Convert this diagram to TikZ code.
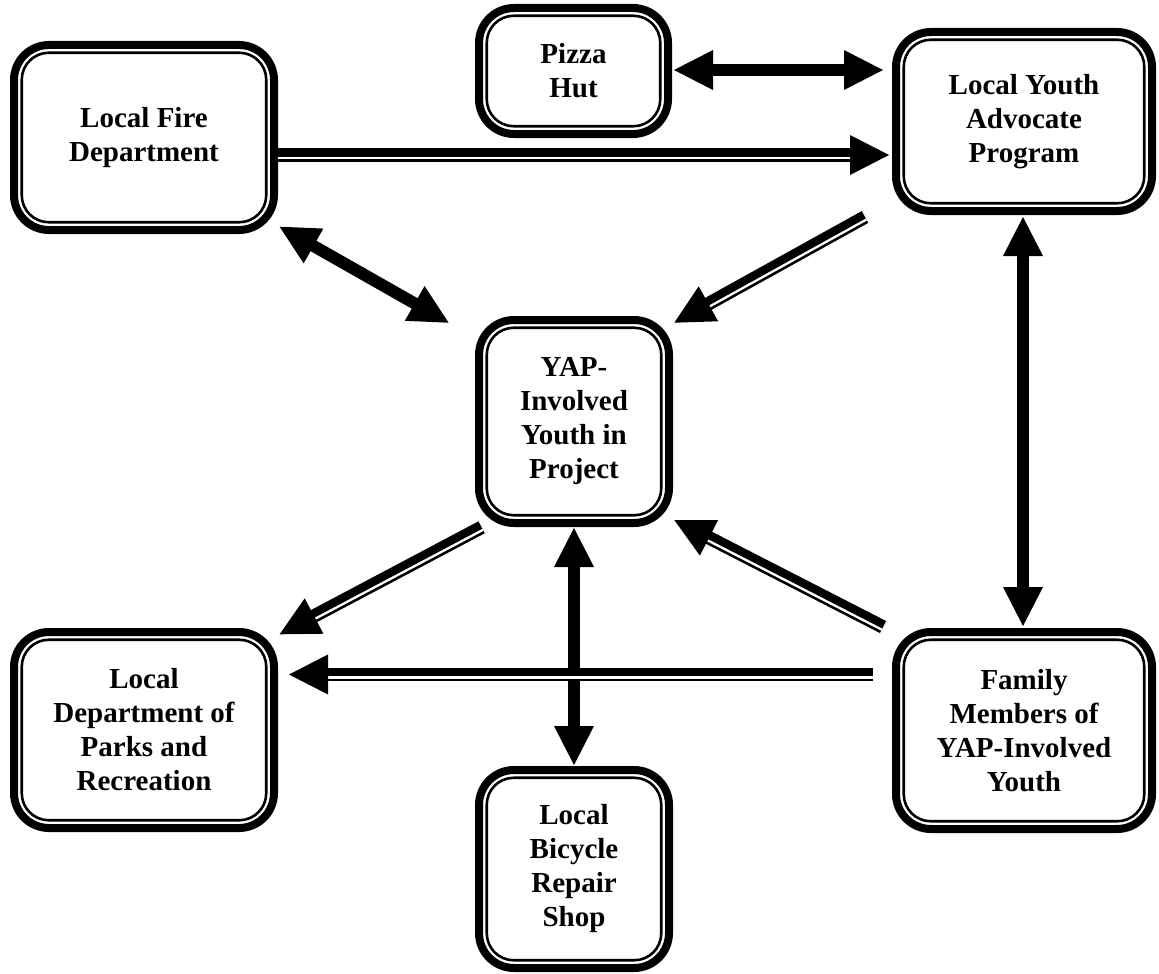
\documentclass[tikz,border=0pt]{standalone}
\usepackage{fontspec}
\setmainfont{Liberation Serif}
\usetikzlibrary{calc}

\tikzset{
  orgbox/.style={draw, line width=8pt, rounded corners=35pt, inner sep=0pt,
    outer sep=4pt, align=center, fill=white,
    font=\fontsize{29}{34}\selectfont\bfseries},
  innerline/.style={draw, line width=2.6pt, rounded corners=27pt},
  bothshaft/.style={line width=12pt},
  dblshaft/.style={line width=13.5pt},
  dblgap/.style={white, line width=2.3pt},
}

% box with a heavy outer border and a thin inner border
\newcommand\orgnode[6]{%
  \node[orgbox, minimum width=#4pt, minimum height=#5pt] (#1) at (#2,#3) {#6};
  \draw[innerline] ($(#1.north west)+(11.75,11.75)$) rectangle ($(#1.south east)+(-11.75,-11.75)$);
}

% heavy single line with a triangular head at both ends
\newcommand\linkboth[2]{%
  \path ($(#1)!39pt!(#2)$) coordinate (hA) ($(#2)!39pt!(#1)$) coordinate (hB);
  \draw[bothshaft] ($(#1)!38pt!(#2)$) -- ($(#2)!38pt!(#1)$);
  \fill (#1) -- ($(hA)!20pt!90:(#1)$) -- ($(hA)!20pt!-90:(#1)$) -- cycle;
  \fill (#2) -- ($(hB)!20pt!90:(#2)$) -- ($(hB)!20pt!-90:(#2)$) -- cycle;
}

% thick-thin double line with one head; #3 puts the thin line on one side
\newcommand\linkdouble[3]{%
  \path ($(#2)!39pt!(#1)$) coordinate (hB) ($(#2)!38pt!(#1)$) coordinate (hS);
  \draw[dblshaft] (#1) -- (hS);
  \draw[dblgap] ($(#1)!#3!90:(#2)$) -- ($(hB)!#3!-90:(#1)$);
  \fill (#2) -- ($(hB)!20pt!90:(#2)$) -- ($(hB)!20pt!-90:(#2)$) -- cycle;
}

\begin{document}
\begin{tikzpicture}[x=1pt, y=-1pt]
\useasboundingbox (0,0) rectangle (1159,974);

\orgnode{fire}{144}{137.5}{260}{185}{Local Fire\\Department}
\orgnode{pizza}{573.5}{71}{189}{126}{Pizza\\Hut}
\orgnode{lyap}{1024}{121.5}{256}{179}{Local Youth\\Advocate\\Program}
\orgnode{yap}{574}{421.5}{190}{203}{YAP-\\Involved\\Youth in\\Project}
\orgnode{parks}{144}{730}{260}{196}{Local\\Department of\\Parks and\\Recreation}
\orgnode{bike}{574}{869}{190}{198}{Local\\Bicycle\\Repair\\Shop}
\orgnode{family}{1024}{730.5}{256}{197}{Family\\Members of\\YAP-Involved\\Youth}

% connector end points
\coordinate (a1) at ($(pizza.east)+(2,-1)$);
\coordinate (a2) at ($(lyap.west |- a1)+(-9,0)$);
\coordinate (b1) at ($(fire.east)+(0,17.5)$);
\coordinate (b2) at ($(lyap.west |- b1)+(-3,0)$);
\coordinate (c1) at ($(fire.south east)+(1.6,-7.3)$);
\coordinate (c2) at ($(yap.north west)+(-26.4,6.7)$);
\coordinate (d1) at ($(lyap.south west)+(-27,2)$);
\coordinate (d2) at ($(yap.north east)+(1.3,6.7)$);
\coordinate (e1) at ($(lyap.south)+(-1,2)$);
\coordinate (e2) at ($(e1 |- family.north)+(0,-2)$);
\coordinate (f1) at ($(yap.south west)+(6.6,0.3)$);
\coordinate (f2) at ($(parks.north east)+(1.6,6.3)$);
\coordinate (g1) at ($(family.north west)+(-9,-1)$);
\coordinate (g2) at ($(yap.south east)+(1.3,-7)$);
\coordinate (h1) at ($(family.west)+(-19,-56)$);
\coordinate (h2) at ($(parks.east |- h1)+(11,0)$);
\coordinate (i1) at ($(yap.south)+(0,1)$);
\coordinate (i2) at ($(bike.north)+(0,-1)$);

% two-way links
\linkboth{a1}{a2}
\linkboth{c1}{c2}
\linkboth{e1}{e2}
\linkboth{i1}{i2}

% one-way links
\linkdouble{b1}{b2}{-2.9pt}
\linkdouble{d1}{d2}{2.9pt}
\linkdouble{f1}{f2}{2.9pt}
\linkdouble{g1}{g2}{2.9pt}
\linkdouble{h1}{h2}{2.9pt}
\end{tikzpicture}
\end{document}
